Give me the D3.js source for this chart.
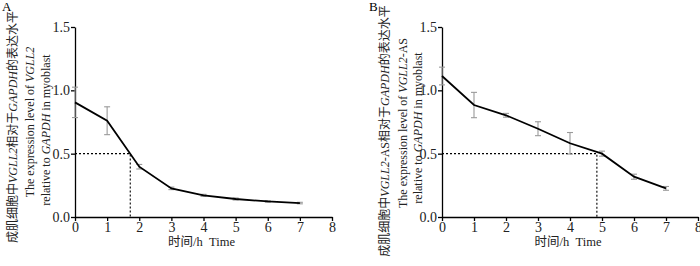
<!DOCTYPE html>
<html>
<head>
<meta charset="utf-8">
<script src="https://cdn.jsdelivr.net/npm/d3@7"></script>
<style>
  html, body { margin: 0; padding: 0; background: #fff; }
  svg { display: block; font-family: "Liberation Serif", "Noto Sans CJK SC", serif; }
  .axis path, .axis line { stroke: #000; stroke-width: 1.3; }
  .axis text { font-size: 14px; fill: #222; font-family: "Liberation Serif", serif; }
</style>
</head>
<body>
<div id="chart"></div>
<script>
/* mRNA 半衰期曲线：A = VGLL2，B = VGLL2-AS */
const hours = [0, 1, 2, 3, 4, 5, 6, 7];
const meanA = [0.905, 0.76, 0.397, 0.226, 0.171, 0.142, 0.123, 0.11];
const errA  = [0.12, 0.11, 0.018, 0.01, 0.008, 0.008, 0.006, 0.006];
const meanB = [1.113, 0.884, 0.803, 0.697, 0.582, 0.5, 0.318, 0.226];
const errB  = [0.07, 0.1, 0.015, 0.055, 0.085, 0.02, 0.02, 0.015];
const halfA = 1.72, halfB = 4.84;
const xTicks = [0, 1, 2, 3, 4, 5, 6, 7, 8];
const yTicks = [0, 0.5, 1.0, 1.5];

const W = 700, H = 266;
const svg = d3.select("#chart").append("svg").attr("width", W).attr("height", H);

function panel(cfg) {
  const g = svg.append("g");
  const x = d3.scaleLinear().domain([0, 8]).range([cfg.x0, cfg.x1]);
  const y = d3.scaleLinear().domain([0, 1.5]).range([217, 27]);

  g.append("g").attr("class", "axis").attr("transform", "translate(0,217)")
    .call(d3.axisBottom(x).tickValues(xTicks).tickSize(4).tickSizeOuter(0).tickPadding(1).tickFormat(d3.format("d")));
  g.append("g").attr("class", "axis").attr("transform", `translate(${cfg.x0},0)`)
    .call(d3.axisLeft(y).tickValues(yTicks).tickSize(4).tickSizeOuter(0).tickPadding(1).tickFormat(d3.format(".1f")));

  /* 半衰期虚线 */
  g.append("path")
    .attr("d", `M${x(0)},${y(0.5)}H${x(cfg.half)}V${y(0)}`)
    .attr("fill", "none").attr("stroke", "#000").attr("stroke-width", 1.1)
    .attr("stroke-dasharray", "2 2");

  /* 误差线 */
  const eb = g.append("g").attr("stroke", "#9a9a9a").attr("stroke-width", 1.1);
  hours.forEach((h, i) => {
    const cx = x(h), lo = y(cfg.mean[i] - cfg.err[i]), hi = y(cfg.mean[i] + cfg.err[i]);
    eb.append("line").attr("x1", cx).attr("x2", cx).attr("y1", lo).attr("y2", hi);
    eb.append("line").attr("x1", cx - 3).attr("x2", cx + 3).attr("y1", lo).attr("y2", lo);
    eb.append("line").attr("x1", cx - 3).attr("x2", cx + 3).attr("y1", hi).attr("y2", hi);
  });

  g.append("path").datum(cfg.mean)
    .attr("d", d3.line().x((d, i) => x(hours[i])).y(d => y(d)))
    .attr("fill", "none").attr("stroke", "#000").attr("stroke-width", 1.8);

  /* 标题 */
  g.append("text").attr("x", cfg.letterX).attr("y", 11).attr("font-size", 13).text(cfg.letter);
  g.append("text").attr("x", (cfg.x0 + cfg.x1) / 2 - 2).attr("y", 246)
    .attr("text-anchor", "middle").attr("font-size", 12.5).attr("fill", "#222")
    .text("时间/h\u00a0\u00a0Time");

  cfg.lines.forEach((parts, k) => {
    const t = g.append("text")
      .attr("transform", `translate(${cfg.lineX[k]},${cfg.lineY[k]}) rotate(-90)`)
      .attr("text-anchor", "middle").attr("font-size", 12).attr("fill", "#222");
    parts.forEach(p => t.append("tspan").attr("font-style", p.i ? "italic" : null).text(p.t));
  });
}

panel({
  x0: 75, x1: 332, mean: meanA, err: errA, half: halfA, letter: "A", letterX: 2,
  lineX: [17, 34, 50], lineY: [127, 122, 130],
  lines: [
    [{ t: "成肌细胞中" }, { t: "VGLL2", i: 1 }, { t: "相对于" }, { t: "GAPDH", i: 1 }, { t: "的表达水平" }],
    [{ t: "The expression level of " }, { t: "VGLL2", i: 1 }],
    [{ t: "relative to " }, { t: "GAPDH", i: 1 }, { t: " in myoblast" }]
  ]
});

panel({
  x0: 442, x1: 698, mean: meanB, err: errB, half: halfB, letter: "B", letterX: 369,
  lineX: [389, 407, 422], lineY: [131, 123, 128],
  lines: [
    [{ t: "成肌细胞中" }, { t: "VGLL2", i: 1 }, { t: "-AS相对于" }, { t: "GAPDH", i: 1 }, { t: "的表达水平" }],
    [{ t: "The expression level of " }, { t: "VGLL2", i: 1 }, { t: "-AS" }],
    [{ t: "relative to " }, { t: "GAPDH", i: 1 }, { t: " in myoblast" }]
  ]
});
</script>
</body>
</html>
